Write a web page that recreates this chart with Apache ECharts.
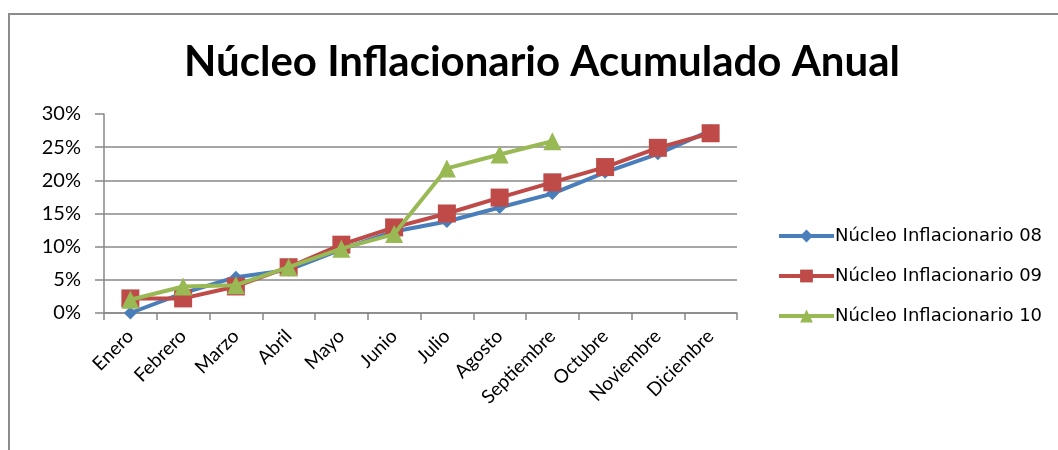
<!DOCTYPE html>
<html><head><meta charset="utf-8">
<script src="https://cdn.jsdelivr.net/npm/echarts@6/dist/echarts.min.js"></script>
<style>html,body{margin:0;padding:0;background:#fff}#c{width:1058px;height:450px}</style>
</head><body><div id="c"></div>
<script>
const categories = ['Enero','Febrero','Marzo','Abril','Mayo','Junio','Julio','Agosto','Septiembre','Octubre','Noviembre','Diciembre'];
const nucleo08 = [0.0, 3.0, 5.4, 6.5, 9.6, 12.3, 13.8, 15.9, 18.0, 21.2, 24.0, 27.5];
const nucleo09 = [2.2, 2.2, 4.0, 6.9, 10.3, 12.9, 15.0, 17.4, 19.7, 22.0, 24.9, 27.1];
const nucleo10 = [2.0, 4.0, 4.2, 6.9, 9.7, 11.9, 21.8, 23.9, 25.9];
const seriesNames = ['Núcleo Inflacionario 08','Núcleo Inflacionario 09','Núcleo Inflacionario 10'];
const yTicks = [0,5,10,15,20,25,30];
const titleText = 'Núcleo Inflacionario Acumulado Anual';

const chart = echarts.init(document.getElementById('c'), null, {renderer:'canvas'});
const axisFont = 'Lato, sans-serif';
chart.setOption({
  animation:false,
  backgroundColor:'#fff',
  graphic:[
    {type:'polyline', shape:{points:[[9,452],[9,14],[1060,14]]}, style:{stroke:'#8c8c8c', lineWidth:2, fill:null}, silent:true},
    {type:'text', x:542, y:62, style:{text:titleText, font:'bold 42px Lato, sans-serif', fill:'#000', textAlign:'center', textVerticalAlign:'middle'}}
  ],
  grid:{left:104, right:321, top:114, bottom:137, containLabel:false},
  legend:{
    orient:'vertical', left:772, top:222, itemWidth:55, itemHeight:16, itemGap:22,
    data:seriesNames,
    lineStyle:{width:4},
    textStyle:{fontFamily:'DejaVu Sans', fontSize:18, color:'#000', padding:[0,0,0,-4]}
  },
  xAxis:{
    type:'category', data:categories, boundaryGap:true,
    axisLine:{lineStyle:{color:'#888', width:1.5}},
    axisTick:{show:true, length:7, lineStyle:{color:'#888', width:1.5}},
    axisLabel:{rotate:45, margin:20, fontFamily:axisFont, fontSize:19, color:'#000', interval:0},
    splitLine:{show:false}
  },
  yAxis:{
    type:'value', min:0, max:30, interval:5,
    axisLine:{show:true, lineStyle:{color:'#888', width:1.5}},
    axisTick:{show:true, inside:false, length:9, lineStyle:{color:'#888', width:1.5}},
    axisLabel:{margin:23, fontFamily:axisFont, fontSize:20, color:'#000', formatter: v => v + '%'},
    splitLine:{show:true, lineStyle:{color:['#888','#888','#888','#888','#888','#888','rgba(0,0,0,0)'], width:1.5}}
  },
  series:[
    {name:seriesNames[0], type:'line', data:nucleo08, symbol:'diamond', symbolSize:13,
     itemStyle:{color:'#4A7EBB'}, lineStyle:{color:'#4A7EBB', width:4}, z:2},
    {name:seriesNames[1], type:'line', data:nucleo09, symbol:'rect', symbolSize:18,
     itemStyle:{color:'#BE4B48'}, lineStyle:{color:'#BE4B48', width:4}, z:3},
    {name:seriesNames[2], type:'line', data:nucleo10, symbol:'triangle', symbolSize:18,
     itemStyle:{color:'#98B954'}, lineStyle:{color:'#98B954', width:4}, z:4}
  ]
});
</script></body></html>
